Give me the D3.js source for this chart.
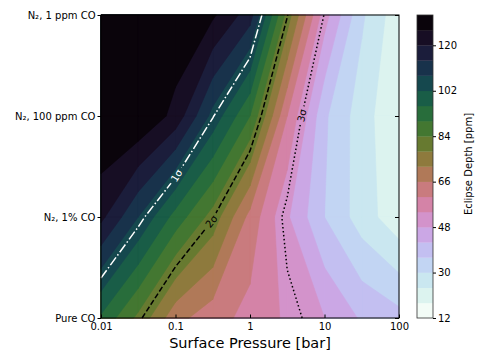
<!DOCTYPE html>
<html>
<head>
<meta charset="utf-8">
<script src="https://cdn.jsdelivr.net/npm/d3@7"></script>
<style>
    html, body { margin: 0; padding: 0; background: #fff; }
    svg { display: block; font-family: "DejaVu Sans", sans-serif; }
</style>
</head>
<body>
<div class="graph"></div>
<script>
// Surface pressure grid (bar) and the atmosphere compositions
const pressures = [0.01, 0.0316, 0.1, 0.316, 1, 3.16, 10, 31.6, 100];
const compositions = ["Pure CO", "N₂, 1% CO", "N₂, 100 ppm CO", "N₂, 1 ppm CO"];

// Eclipse depth (ppm) along the pressure grid, one list per composition
const depthPureCO   = [95, 82.5, 68, 62.5, 58, 53, 48, 41.2, 38];
const depth1pctCO   = [121.5, 108, 93.6, 81.5, 64, 48.8, 36, 27, 20];
const depth100ppmCO = [132, 132, 124, 106, 90, 60, 37, 26.7, 18.5];
const depth1ppmCO   = [132, 132, 131, 127, 116.8, 81.5, 50.5, 31, 20];

// Filled contour levels and colorbar ticks
const levels = [12, 18, 24, 30, 36, 42, 48, 54, 60, 66, 72, 78, 84, 90, 96, 102, 108, 114, 120, 126, 132];
const colorbarTicks = [12, 30, 48, 66, 84, 102, 120];

// Significance contours
const sigmaLevels = [105.5, 81, 51];
const sigmaLabels = ["1σ", "2σ", "3σ"];

const xTicks = [0.01, 0.1, 1, 10, 100];
const xTickLabels = ["0.01", "0.1", "1", "10", "100"];

// The dimensions of the graph
const dimensions = {
    width: 484,
    height: 363,
    margins: { top: 15, left: 101 },
    boundedWidth: 298,
    boundedHeight: 303,
    colorbarX: 417,
    colorbarWidth: 16
};

const sigmaStyles = [
    { color: "#ffffff", dash: "9.6,2.4,1.5,2.4", labelAt: [0.089, 1.44] },
    { color: "#000000", dash: "5.5,2.4", labelAt: [0.29, 0.97] },
    { color: "#000000", dash: "1.5,2.5", labelAt: [4.0, 2.02] }
];

const grid = [depthPureCO, depth1pctCO, depth100ppmCO, depth1ppmCO];

const svg = d3.select(".graph")
    .append("svg")
        .attr("width", dimensions.width)
        .attr("height", dimensions.height);

const bounds = svg.append("g")
    .attr("transform", `translate(${dimensions.margins.left},${dimensions.margins.top})`);

const xScale = d3.scaleLog()
    .domain([0.01, 100])
    .range([0, dimensions.boundedWidth]);

const yScale = d3.scalePoint()
    .domain(compositions)
    .range([dimensions.boundedHeight, 0]);

const colorScale = d3.scaleSequential(d3.interpolateCubehelixDefault)
    .domain([132, 12]);

// corners of one grid cell, counter clockwise
function cellCorners(i, j) {
    return [[i, j], [i + 1, j], [i + 1, j + 1], [i, j + 1]].map(([a, b]) => ({
        x: xScale(pressures[a]),
        y: yScale(compositions[b]),
        v: grid[b][a]
    }));
}

function crossing(a, b, t) {
    if (a.x > b.x || (a.x === b.x && a.y > b.y)) [a, b] = [b, a];
    const f = (t - a.v) / (b.v - a.v);
    return { x: a.x + f * (b.x - a.x), y: a.y + f * (b.y - a.y), v: t };
}

// keeps the part of a cell where depth >= t
function clipAbove(poly, t) {
    const out = [];
    for (let k = 0; k < poly.length; k++) {
        const a = poly[k], b = poly[(k + 1) % poly.length];
        const ina = a.v >= t, inb = b.v >= t;
        if (ina) out.push(a);
        if (ina !== inb) out.push(crossing(a, b, t));
    }
    return out;
}

function regionPath(t) {
    let d = "";
    for (let j = 0; j < compositions.length - 1; j++) {
        for (let i = 0; i < pressures.length - 1; i++) {
            const poly = clipAbove(cellCorners(i, j), t);
            if (poly.length < 3) continue;
            d += "M" + poly.map(p => `${p.x},${p.y}`).join("L") + "Z";
        }
    }
    return d;
}

function contourLines(t) {
    const segs = [];
    for (let j = 0; j < compositions.length - 1; j++) {
        for (let i = 0; i < pressures.length - 1; i++) {
            const c = cellCorners(i, j);
            const pts = [];
            for (let k = 0; k < 4; k++) {
                const a = c[k], b = c[(k + 1) % 4];
                if ((a.v >= t) !== (b.v >= t)) pts.push(crossing(a, b, t));
            }
            if (pts.length === 2) segs.push(pts);
            else if (pts.length === 4) {
                const centre = d3.mean(c, d => d.v) >= t;
                if (centre === (c[0].v >= t)) segs.push([pts[0], pts[1]], [pts[2], pts[3]]);
                else segs.push([pts[3], pts[0]], [pts[1], pts[2]]);
            }
        }
    }
    // join the segments into polylines
    const key = p => `${p.x.toFixed(2)},${p.y.toFixed(2)}`;
    const ends = new Map();
    segs.forEach((s, n) => s.forEach(p => {
        const k = key(p);
        if (!ends.has(k)) ends.set(k, []);
        ends.get(k).push(n);
    }));
    const used = segs.map(() => false);
    const lines = [];
    function follow(n, start) {
        const line = [start];
        let cur = n, p = start;
        while (cur !== undefined) {
            used[cur] = true;
            const s = segs[cur];
            p = key(s[0]) === key(p) ? s[1] : s[0];
            line.push(p);
            cur = ends.get(key(p)).find(m => !used[m]);
        }
        return line;
    }
    segs.forEach((s, n) => {
        if (used[n]) return;
        const open = s.find(p => ends.get(key(p)).length === 1);
        if (open) lines.push(follow(n, open));
    });
    segs.forEach((s, n) => {
        if (!used[n]) lines.push(follow(n, s[0]));
    });
    return lines;
}

// Draws the filled bands, lowest level first
const bands = d3.range(levels.length - 1).map(i => ({
    lo: levels[i],
    hi: levels[i + 1],
    color: colorScale((levels[i] + levels[i + 1]) / 2)
}));

bounds.append("g")
    .selectAll("path")
    .data(bands)
    .join("path")
        .attr("d", d => regionPath(d.lo))
        .attr("fill", d => d.color)
        .attr("stroke", d => d.color)
        .attr("stroke-width", 0.6)
        .attr("stroke-linejoin", "round");

// Draws the significance contours with inline labels
const defs = svg.append("defs");
const lineGenerator = d3.line().x(d => d.x).y(d => d.y);

sigmaLevels.forEach((level, s) => {
    const style = sigmaStyles[s];
    const lines = contourLines(level);
    const target = { x: xScale(style.labelAt[0]), y: dimensions.boundedHeight - style.labelAt[1] * dimensions.boundedHeight / 3 };

    // nearest point on the contour to the wanted label place
    let best = null;
    lines.forEach(line => {
        for (let k = 0; k < line.length - 1; k++) {
            const a = line[k], b = line[k + 1];
            const dx = b.x - a.x, dy = b.y - a.y;
            const len2 = dx * dx + dy * dy || 1;
            const f = Math.max(0, Math.min(1, ((target.x - a.x) * dx + (target.y - a.y) * dy) / len2));
            const px = a.x + f * dx, py = a.y + f * dy;
            const dist = (px - target.x) ** 2 + (py - target.y) ** 2;
            if (!best || dist < best.dist) best = { x: px, y: py, dist, dx, dy };
        }
    });

    let angle = Math.atan2(best.dy, best.dx) * 180 / Math.PI;
    if (angle > 90) angle -= 180;
    if (angle < -90) angle += 180;

    const label = bounds.append("text")
        .attr("transform", `translate(${best.x},${best.y}) rotate(${angle})`)
        .attr("text-anchor", "middle")
        .attr("dy", "0.35em")
        .attr("font-size", 10)
        .attr("fill", style.color)
        .text(sigmaLabels[s]);
    const labelWidth = label.node().getComputedTextLength();

    const mask = defs.append("mask")
        .attr("id", `gap${s}`)
        .attr("maskUnits", "userSpaceOnUse")
        .attr("x", -20).attr("y", -20)
        .attr("width", dimensions.boundedWidth + 40)
        .attr("height", dimensions.boundedHeight + 40);
    mask.append("rect")
        .attr("x", -20).attr("y", -20)
        .attr("width", dimensions.boundedWidth + 40)
        .attr("height", dimensions.boundedHeight + 40)
        .attr("fill", "white");
    mask.append("rect")
        .attr("x", -labelWidth / 2 - 3).attr("y", -6)
        .attr("width", labelWidth + 6).attr("height", 12)
        .attr("transform", `translate(${best.x},${best.y}) rotate(${angle})`)
        .attr("fill", "black");

    bounds.insert("g", "text")
        .attr("mask", `url(#gap${s})`)
        .selectAll("path")
        .data(lines)
        .join("path")
            .attr("d", lineGenerator)
            .attr("fill", "none")
            .attr("stroke", style.color)
            .attr("stroke-width", 1.5)
            .attr("stroke-dasharray", style.dash);
});

// Axes
const xAxis = bounds.append("g")
    .attr("transform", `translate(0,${dimensions.boundedHeight})`)
    .call(d3.axisBottom(xScale)
        .tickValues(xTicks)
        .tickFormat((d, i) => xTickLabels[i])
        .tickSizeInner(-3.5)
        .tickSizeOuter(0)
        .tickPadding(5));

const yAxis = bounds.append("g")
    .call(d3.axisLeft(yScale)
        .tickSizeInner(3.5)
        .tickSizeOuter(0)
        .tickPadding(2));

const yAxisRight = bounds.append("g")
    .attr("transform", `translate(${dimensions.boundedWidth},0)`)
    .call(d3.axisRight(yScale)
        .tickSizeInner(-4)
        .tickSizeOuter(0)
        .tickFormat(""));

[xAxis, yAxis, yAxisRight].forEach(axis => {
    axis.select(".domain").remove();
    axis.selectAll("text")
        .attr("font-size", 10)
        .attr("font-family", "DejaVu Sans, sans-serif")
        .attr("fill", "#000");
    axis.selectAll("line").attr("stroke", "#000");
});

bounds.append("rect")
    .attr("width", dimensions.boundedWidth)
    .attr("height", dimensions.boundedHeight)
    .attr("fill", "none")
    .attr("stroke", "#000")
    .attr("stroke-width", 1);

svg.append("text")
    .attr("x", dimensions.margins.left + dimensions.boundedWidth / 2)
    .attr("y", 347.5)
    .attr("text-anchor", "middle")
    .attr("font-size", 14.5)
    .text("Surface Pressure [bar]");

// Colorbar
const cScale = d3.scaleLinear()
    .domain([12, 132])
    .range([dimensions.margins.top + dimensions.boundedHeight, dimensions.margins.top]);

const colorbar = svg.append("g")
    .attr("transform", `translate(${dimensions.colorbarX},0)`);

colorbar.selectAll("rect")
    .data(bands)
    .join("rect")
        .attr("x", 0)
        .attr("y", d => cScale(d.hi))
        .attr("width", dimensions.colorbarWidth)
        .attr("height", d => cScale(d.lo) - cScale(d.hi) + 0.3)
        .attr("fill", d => d.color);

colorbar.append("rect")
    .attr("y", cScale(132))
    .attr("width", dimensions.colorbarWidth)
    .attr("height", cScale(12) - cScale(132))
    .attr("fill", "none")
    .attr("stroke", "#333")
    .attr("stroke-width", 0.8);

const cAxis = colorbar.append("g")
    .attr("transform", `translate(${dimensions.colorbarWidth},0)`)
    .call(d3.axisRight(cScale)
        .tickValues(colorbarTicks)
        .tickSizeInner(3)
        .tickSizeOuter(0)
        .tickPadding(2));
cAxis.select(".domain").remove();
cAxis.selectAll("text")
    .attr("font-size", 10)
    .attr("font-family", "DejaVu Sans, sans-serif")
    .attr("fill", "#000");
cAxis.selectAll("line").attr("stroke", "#000");

svg.append("text")
    .attr("transform", "translate(472,164) rotate(-90)")
    .attr("text-anchor", "middle")
    .attr("font-size", 10)
    .text("Eclipse Depth [ppm]");
</script>
</body>
</html>
